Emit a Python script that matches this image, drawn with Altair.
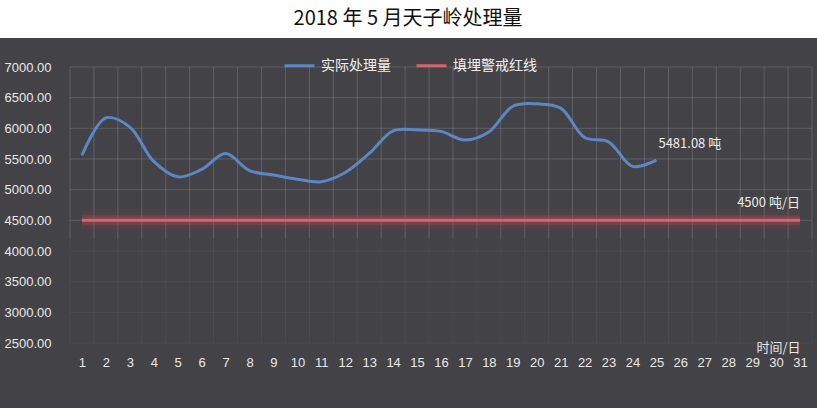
import altair as alt
import pandas as pd

# ---- data ----
days = list(range(1, 26))
actual = [5560, 6170, 6020, 5460, 5210, 5330, 5590, 5310, 5240, 5170,
          5130, 5280, 5590, 5960, 5975, 5950, 5810, 5940, 6360, 6400,
          6330, 5850, 5780, 5380, 5481.08]
warn_days = [1, 31]
warn_value = 4500
x_ticks = list(range(1, 32))
y_ticks = [2500, 3000, 3500, 4000, 4500, 5000, 5500, 6000, 6500, 7000]
series_names = ["实际处理量", "填埋警戒红线"]
title_text = "2018 年 5 月天子岭处理量"
x_title = "时间/日"

FONT = "Liberation Sans, Noto Sans CJK SC"
CJK = "Noto Sans CJK SC"
BG = "#434246"
W, H = 742, 276

lines_df = pd.DataFrame(
    [{"day": d, "value": v, "series": series_names[0]} for d, v in zip(days, actual)]
    + [{"day": d, "value": warn_value, "series": series_names[1]} for d in warn_days]
)
warn_df = lines_df[lines_df["series"] == series_names[1]]
bounds = [d - 0.5 for d in x_ticks] + [x_ticks[-1] + 0.5]
vgrid_df = pd.DataFrame({"day": bounds, "top": y_ticks[-1], "bot": warn_value - 300})
vgrid_low_df = pd.DataFrame({"day": bounds})
hgrid_hi_df = pd.DataFrame({"value": [v for v in y_ticks if v >= warn_value]})
hgrid_lo_df = pd.DataFrame({"value": [v for v in y_ticks if v < warn_value]})
ann_df = pd.DataFrame({
    "day": [days[-1], warn_days[-1]],
    "value": [actual[-1], warn_value],
    "label": [f"{actual[-1]:.2f} 吨", f"{warn_value} 吨/日"],
})
one = pd.DataFrame({"k": [0]})

xscale = alt.Scale(domain=[0.5, 31.5], nice=False, zero=False)
yscale = alt.Scale(domain=[2500, 7000], nice=False, zero=False)
xaxis = alt.Axis(values=x_ticks, domain=False, ticks=False, grid=False,
                 labelPadding=13, labelFontSize=13, labelColor="#e8e8e8",
                 labelFont=FONT, labelAngle=0, zindex=1,
                 title=x_title, titleX=730, titleY=4, titleAlign="right",
                 titleBaseline="middle", titleAngle=0, titleFontSize=13,
                 titleFontWeight="normal", titleColor="#e8e8e8", titleFont=CJK)
yaxis = alt.Axis(values=y_ticks, format=".2f", domain=False, ticks=False, grid=False,
                 labelPadding=19, labelFontSize=13, labelColor="#e8e8e8",
                 labelFont=FONT, zindex=1, title=None)

X = lambda: alt.X("day:Q", scale=xscale, axis=xaxis)
Y = lambda f="value": alt.Y(f"{f}:Q", scale=yscale, axis=yaxis)

bg = alt.Chart(one).mark_rect(color=BG).encode(
    x=alt.value(-70), x2=alt.value(W + 5), y=alt.value(-29), y2=alt.value(H + 65)
)
title = alt.Chart(one).mark_text(
    text=title_text, font=CJK, fontSize=20, color="#111111", baseline="middle", align="center"
).encode(x=alt.value(338), y=alt.value(-48))

vgrid_lo = alt.Chart(vgrid_low_df).mark_rule(color="white", opacity=0.05, strokeWidth=1).encode(x=X())
vgrid = alt.Chart(vgrid_df).mark_rule(color="white", opacity=0.12, strokeWidth=1).encode(
    x=X(), y=Y("top"), y2="bot:Q")
hgrid_hi = alt.Chart(hgrid_hi_df).mark_rule(color="white", opacity=0.14, strokeWidth=1).encode(y=Y())
hgrid_lo = alt.Chart(hgrid_lo_df).mark_rule(color="white", opacity=0.05, strokeWidth=1).encode(y=Y())

glow1 = alt.Chart(warn_df).mark_line(color="#b03a46", strokeWidth=20, opacity=0.12).encode(x=X(), y=Y())
glow2 = alt.Chart(warn_df).mark_line(color="#c04a56", strokeWidth=10, opacity=0.3).encode(x=X(), y=Y())

lines = alt.Chart(lines_df).mark_line(interpolate="catmull-rom", strokeWidth=3).encode(
    x=X(), y=Y(),
    color=alt.Color("series:N",
                    scale=alt.Scale(domain=series_names, range=["#5b87c5", "#d4646e"]),
                    legend=alt.Legend(title=None, orient="none", legendX=213, legendY=-18,
                                      direction="horizontal", symbolType="stroke",
                                      symbolSize=900, symbolStrokeWidth=3,
                                      labelFont=CJK, labelFontSize=14, labelColor="#f0f0f0",
                                      labelOffset=5, columnPadding=19, zindex=1)),
    detail="series:N",
)

ann1 = alt.Chart(ann_df.iloc[[0]]).mark_text(
    font=CJK, fontSize=13, color="#ececec", baseline="middle", align="left", dx=2, dy=-16
).encode(x=X(), y=Y(), text="label:N")
ann2 = alt.Chart(ann_df.iloc[[1]]).mark_text(
    font=CJK, fontSize=13, color="#ececec", baseline="middle", align="right", dx=0, dy=-17
).encode(x=X(), y=Y(), text="label:N")

chart = alt.layer(bg, title, vgrid_lo, vgrid, hgrid_hi, hgrid_lo, glow1, glow2, lines, ann1, ann2).properties(
    width=W, height=H,
    padding={"left": 70, "top": 67, "right": 5, "bottom": 65},
    autosize=alt.AutoSizeParams(type="none"),
    background="white",
).configure_view(strokeWidth=0)

chart.save("out.html", embed_options={"renderer": "svg", "actions": False})
